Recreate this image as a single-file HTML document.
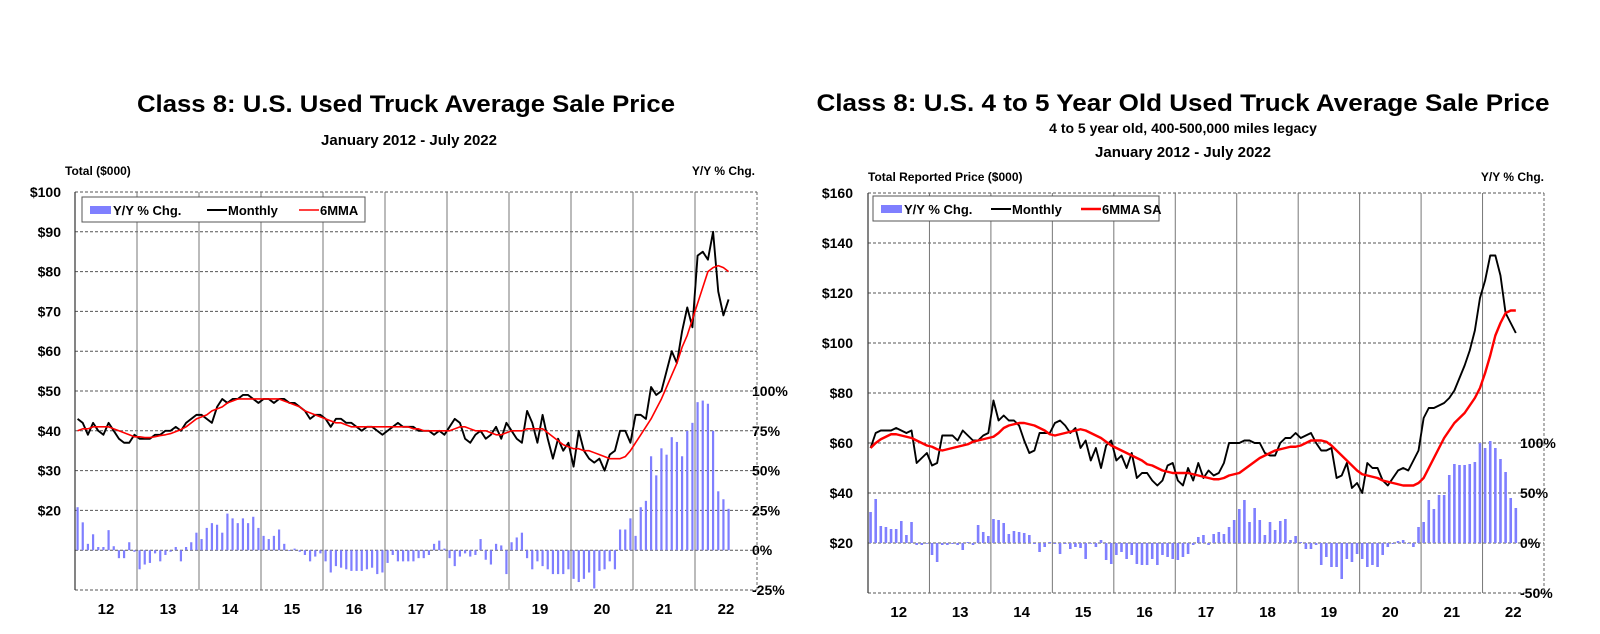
<!DOCTYPE html>
<html><head><meta charset="utf-8">
<style>
html,body{margin:0;padding:0;background:#fff;}
svg{display:block;font-family:"Liberation Sans",Arial,sans-serif;}
text{font-weight:bold;fill:#000;}
</style></head>
<body>
<svg id="root" width="1600" height="634" viewBox="0 0 1600 634">
  <g>
    <text x="406" y="112" font-size="24" text-anchor="middle" textLength="538" lengthAdjust="spacingAndGlyphs">Class 8: U.S. Used Truck Average Sale Price</text>
    <text x="409" y="145" font-size="15" text-anchor="middle">January 2012 - July 2022</text>
    <text x="65" y="175" font-size="12">Total ($000)</text>
    <text x="755" y="175" font-size="12" text-anchor="end">Y/Y % Chg.</text>
    <g id="L"></g>
  </g>
  <g>
    <text x="1183" y="111" font-size="24" text-anchor="middle" textLength="733" lengthAdjust="spacingAndGlyphs">Class 8: U.S. 4 to 5 Year Old Used Truck Average Sale Price</text>
    <text x="1183" y="133" font-size="14" text-anchor="middle">4 to 5 year old, 400-500,000 miles legacy</text>
    <text x="1183" y="157" font-size="15" text-anchor="middle">January 2012 - July 2022</text>
    <text x="868" y="181" font-size="12">Total Reported Price ($000)</text>
    <text x="1544" y="181" font-size="12" text-anchor="end">Y/Y % Chg.</text>
    <g id="R"></g>
  </g>
</svg>
<script>
const yearLabels = ["12","13","14","15","16","17","18","19","20","21","22"];

const leftMonthly = [
43,42,39,42,40,39,42,40,38,37,37,39,
38,38,38,39,39,40,40,41,40,42,43,44,
44,43,42,46,48,47,48,48,49,49,48,47,
48,48,47,48,48,47,47,46,45,43,44,44,
43,41,43,43,42,42,41,40,41,41,40,39,
40,41,42,41,41,41,40,40,40,39,40,39,
41,43,42,38,37,39,40,38,39,41,38,42,
40,38,37,45,42,37,44,38,33,38,35,37,
31,40,35,33,32,33,30,34,35,40,40,37,
44,44,43,51,49,50,55,60,57,65,71,66,
84,85,83,90,75,69,73];
const left6mma = [
40,40.5,40.5,41,41,41,41,40.5,40,39.5,39,38.5,
38.5,38.3,38.3,38.5,38.8,39,39.3,39.8,40.3,41,42,43,
43.5,44,45,45.5,46,47,47.5,48,48,48,48,48,
48,48,48,48,47.5,47,46.5,46,45,44.5,44,43.5,
43,42.5,42,42,41.5,41,41,41,41,41,41,41,
41,41,41,41,41,40.5,40.5,40,40,40,40,40,
40,40.5,41,41,40.5,40,40,40,39.5,39,39,39.5,
40,40,40,40.5,40.5,40.5,40.5,39.5,38.5,37.5,36.5,36,
35.5,35.5,35,35,34.5,34,33.5,33,33,33,33.5,35,
37,39,41,43,45.5,48,51,54,57,61,64,68,
72,76,80,81,81.5,81,80];
const leftYoY = [
27,17.5,4,10,2,2,12.6,2.5,-5,-5,5,-1,
-12,-9,-8,-2,-7,-3,-1,2,-7,2,5,11,
7,14,17,16,11,23,20,17,20,17,21,14,
9,7,9,13,4,0,1,-1,-3,-7,-4,-2,
-7,-14,-10,-11,-12,-13,-13,-13,-12,-11,-15,-14,
-8,-3,-7,-7,-7,-7,-5,-5,-3,4,6,1,
-5,-10,-4,-2,-4,-3,7,-6,-9,4,3,-15,
5,8,11,-5,-12,-7,-10,-12,-15,-15,-15,-12,
-18,-20,-18,-14,-24,-13,-12,-7,-12,13,13,20,
9,27,31,59,47,64,60,71,68,59,75,80,
93,94,92,75,37,32,26];

const rightMonthly = [
58,64,65,65,65,66,65,64,65,52,54,56,
51,52,63,63,63,61,65,63,61,61,63,64,
77,69,71,69,69,67,61,56,57,64,64,64,
68,69,67,64,66,58,61,53,58,50,59,61,
53,55,50,56,46,48,48,45,43,45,51,52,
45,43,50,45,52,46,49,47,48,52,60,60,
60,61,61,60,60,56,55,55,60,62,62,64,
62,63,64,60,57,57,58,46,47,52,42,44,
40,52,50,50,45,43,46,49,50,49,53,57,
70,74,74,75,76,78,81,86,91,97,105,118,
125,135,135,127,112,108,104];
const right6mma = [
58,60,61.5,62.5,63.5,63.5,63,62.5,62,61,60,59,
58.5,57.5,57,57.5,58,58.5,59,59.5,60.5,61,61.5,62,
62.5,64,66,67,67.5,68,68,67.5,67,66,65,63.5,
63,63.5,64,64.5,65,65.5,65,64,63,62,60.5,59,
58,57,56,55,54,53,51.5,51,50,49,48.5,48,
48,48,48,47.5,47,46.5,46,45.5,45.5,46,47,47.5,
48,49.5,51,52.5,54,55,56,57,57.5,58,58.5,58.5,
59,60,61,61,61,60.5,59,57,55,53,51,49,
47.5,47,46.5,46,45,44.5,44,43.5,43,43,43,44,
46,50,54,58,62,65,68,70,72,75,78,82,
88,95,103,108,112,113,113];
const rightYoY = [
31,44,17,16,14,14,22,8,21,-2,-2,0,
-12,-19,-2,-2,-1,-2,-7,1,-2,18,11,7,
24,23,20,9,12,11,10,8,-1,-9,-4,1,
-1,-11,-1,-6,-4,-5,-16,0,-4,3,-17,-21,
-12,-9,-16,-12,-21,-22,-22,-16,-22,-12,-14,-16,
-17,-14,-11,-2,6,8,-2,9,11,9,16,23,
34,43,21,35,23,8,21,13,22,24,3,7,
1,-6,-6,-2,-22,-14,-24,-24,-36,-16,-19,-11,
-16,-24,-22,-24,-12,-4,-1,2,3,0,-4,16,
21,43,34,48,48,68,79,78,78,79,81,100,
95,102,95,84,71,45,35];

const leftLeftTicks = ["","","$20","$30","$40","$50","$60","$70","$80","$90","$100"];
const leftRightTicks = ["-25%","0%","25%","50%","75%","100%"];
const rightLeftTicks = ["","$20","$40","$60","$80","$100","$120","$140","$160"];
const rightRightTicks = ["-50%","0%","50%","100%"];

const NS = "http://www.w3.org/2000/svg";
function mk(parent, tag, attrs, txt){
  const e = document.createElementNS(NS, tag);
  for (const k in attrs) e.setAttribute(k, attrs[k]);
  if (txt !== undefined) e.textContent = txt;
  parent.appendChild(e);
  return e;
}

function drawChart(g, cfg, monthly, mma, yoy, lTicks, rTicks){
  const {x0,x1,yTop,yBot,vMax,pctZeroVal,pctStep,pctStepVal,pctMin} = cfg;
  const nMonths = yearLabels.length*12;
  const xm = i => x0 + (i+0.5)*(x1-x0)/nMonths;
  const yv = v => yBot - v/vMax*(yBot-yTop);
  const yp = p => yv(pctZeroVal + p/pctStep*pctStepVal);
  const yearW = (x1-x0)/yearLabels.length;
  const nG = lTicks.length-1;
  for (let i=0;i<=nG;i++){
    const v = vMax*i/nG, y = yv(v);
    const gl = mk(g,"line",{x1:x0,x2:x1,y1:y,y2:y,stroke:"#555","stroke-width":1,"stroke-dasharray":"3,2"});
    
    
    if (lTicks[i]){
      const t = mk(g,"text",{x:cfg.lLabelX,y:y+5,"font-size":14,"text-anchor":"end"},lTicks[i]);
      
      
    }
  }
  rTicks.forEach((lab,i)=>{
    const p = pctMin + i*pctStep;
    const t = mk(g,"text",{x:cfg.rLabelX,y:yp(p)+5,"font-size":14},lab);
    
    
  });
  yearLabels.forEach((lab,i)=>{
    const x = x0 + i*yearW;
    if (i>0){
      const vl = mk(g,"line",{x1:x,x2:x,y1:yTop,y2:yBot,stroke:"#777","stroke-width":1});
      
      
    }
    const t = mk(g,"text",{x:x+yearW/2,y:yBot+24,"font-size":15,"text-anchor":"middle"},lab);
    
    
  });
  const ax = mk(g,"line",{x1:x0,x2:x0,y1:yTop,y2:yBot,stroke:"#333","stroke-width":1.2});
  
  
  const ax2 = mk(g,"line",{x1:x1,x2:x1,y1:yTop,y2:yBot,stroke:"#666","stroke-width":1,"stroke-dasharray":"3,2"});
  
  
  const bw = cfg.barW;
  yoy.forEach((p,i)=>{
    const y0 = yp(0), y = yp(p);
    const b = mk(g,"rect",{x:xm(i)-bw/2,y:Math.min(y,y0),width:bw,height:Math.max(0.8,Math.abs(y-y0)),fill:"#7f7fff"});
    
    
  });
  const blk = mk(g,"polyline",{points:monthly.map((v,i)=>xm(i)+","+yv(v)).join(" "),fill:"none",stroke:"#000","stroke-width":1.9,"stroke-linejoin":"round"});
  
  
  const red = mk(g,"polyline",{points:mma.map((v,i)=>xm(i)+","+yv(v)).join(" "),fill:"none",stroke:"#f00","stroke-width":cfg.redW,"stroke-linejoin":"round"});
  
  
  const L = cfg.leg;
  const lg = mk(g,"g",{});
  
  
  mk(lg,"rect",{x:L.x,y:L.y,width:L.w,height:25,fill:"#fff",stroke:"#555","stroke-width":1});
  const e1 = mk(lg,"rect",{x:L.x+8,y:L.y+9,width:21,height:8,fill:"#7f7fff"});
  
  
  const t1 = mk(lg,"text",{x:L.x+31,y:L.y+18,"font-size":13},"Y/Y % Chg.");
  
  
  mk(lg,"line",{x1:L.x+L.m,x2:L.x+L.m+20,y1:L.y+13,y2:L.y+13,stroke:"#000","stroke-width":2});
  const t2 = mk(lg,"text",{x:L.x+L.m+21,y:L.y+18,"font-size":13},"Monthly");
  
  
  mk(lg,"line",{x1:L.x+L.r,x2:L.x+L.r+20,y1:L.y+13,y2:L.y+13,stroke:"#f00","stroke-width":cfg.redW});
  const t3 = mk(lg,"text",{x:L.x+L.r+21,y:L.y+18,"font-size":13},cfg.mmaLabel);
  
  
}

drawChart(document.getElementById("L"),
  {x0:75,x1:757,yTop:192,yBot:590,vMax:100,pctZeroVal:10,pctStep:25,pctStepVal:10,pctMin:-25,
   lLabelX:61,rLabelX:752,barW:2.2,redW:1.6,mmaLabel:"6MMA",
   leg:{x:82,y:197,w:283,m:125,r:217}},
  leftMonthly,left6mma,leftYoY,leftLeftTicks,leftRightTicks);

drawChart(document.getElementById("R"),
  {x0:868,x1:1544,yTop:193,yBot:593,vMax:160,pctZeroVal:20,pctStep:50,pctStepVal:20,pctMin:-50,
   lLabelX:853,rLabelX:1520,barW:2.6,redW:2.4,mmaLabel:"6MMA SA",
   leg:{x:873,y:196,w:286,m:118,r:208}},
  rightMonthly,right6mma,rightYoY,rightLeftTicks,rightRightTicks);
</script>
</body></html>
